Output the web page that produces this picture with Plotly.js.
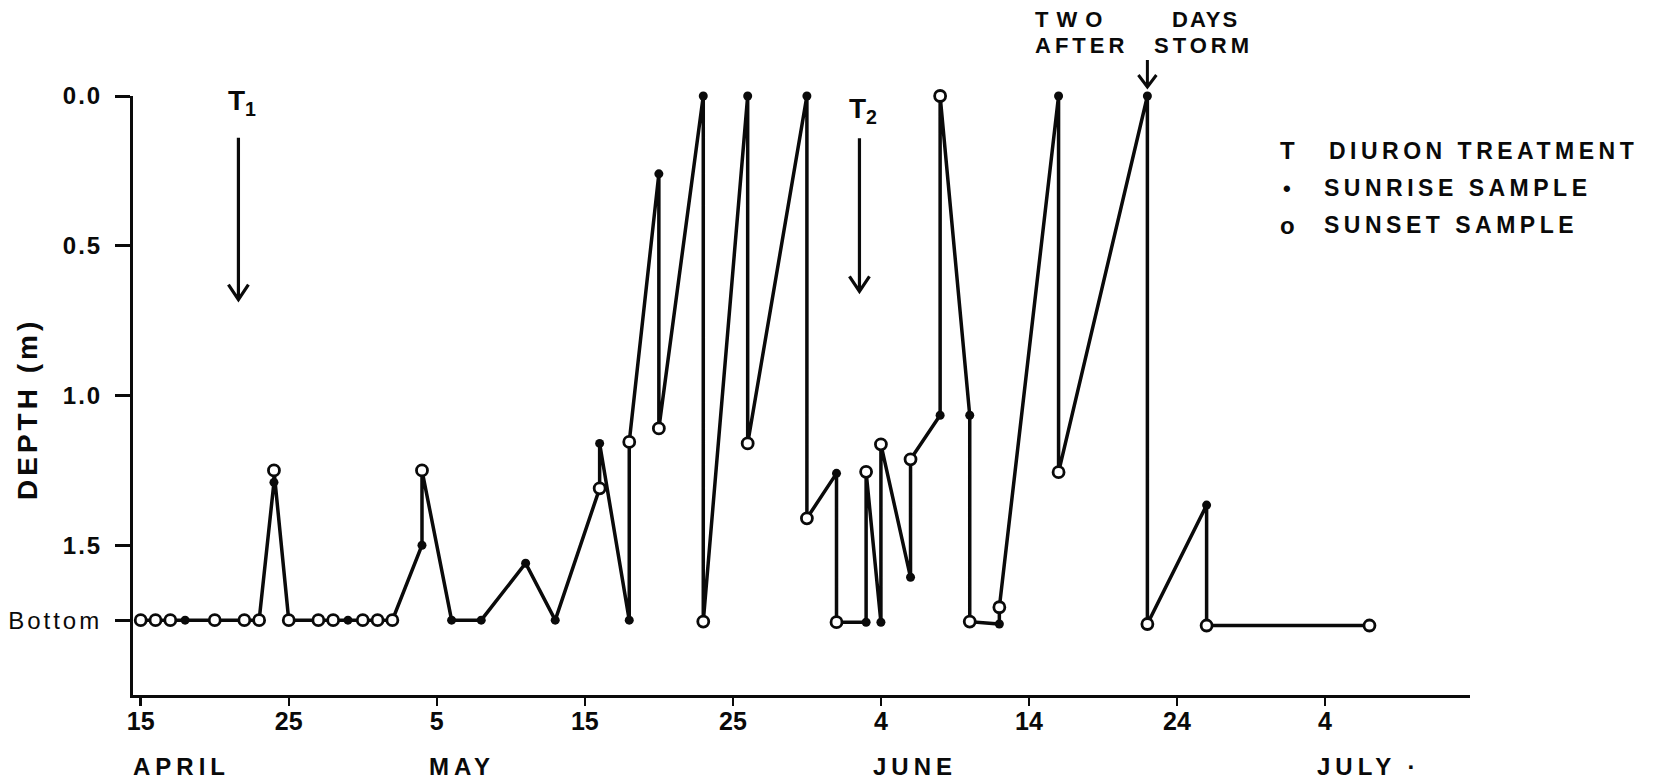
<!DOCTYPE html>
<html>
<head>
<meta charset="utf-8">
<script src="https://cdn.plot.ly/plotly-3.0.1.min.js"></script>
<style>
  html, body { margin: 0; padding: 0; background: #ffffff; }
  #chart { width: 1667px; height: 783px; }
</style>
</head>
<body>
<div id="chart"></div>
<script>
// ---------------- DATA ----------------
// Sampling dates (in the order the line connects them)
const sampleDates = [
  '1979-04-15','1979-04-15','1979-04-16','1979-04-16','1979-04-17','1979-04-18',
  '1979-04-20','1979-04-22','1979-04-23','1979-04-24','1979-04-24','1979-04-25',
  '1979-04-27','1979-04-28','1979-04-29','1979-04-30','1979-05-01','1979-05-02',
  '1979-05-04','1979-05-04','1979-05-06','1979-05-08','1979-05-11','1979-05-13',
  '1979-05-16','1979-05-16','1979-05-18','1979-05-18','1979-05-20','1979-05-20',
  '1979-05-23','1979-05-23','1979-05-26','1979-05-26','1979-05-30','1979-05-30',
  '1979-06-01','1979-06-01','1979-06-03','1979-06-03','1979-06-04','1979-06-04',
  '1979-06-06','1979-06-06','1979-06-08','1979-06-08','1979-06-10','1979-06-10',
  '1979-06-12','1979-06-12','1979-06-16','1979-06-16','1979-06-22','1979-06-22',
  '1979-06-26','1979-06-26','1979-07-07'
];
// Depth in metres (the "Bottom" level is about 1.75 m)
const sampleDepths = [
  1.75, 1.75, 1.75, 1.75, 1.75, 1.75,
  1.75, 1.75, 1.75, 1.29, 1.25, 1.75,
  1.75, 1.75, 1.75, 1.75, 1.75, 1.75,
  1.50, 1.25, 1.75, 1.75, 1.56, 1.75,
  1.31, 1.16, 1.75, 1.155, 0.26, 1.11,
  0.00, 1.755, 0.00, 1.16, 0.00, 1.41,
  1.26, 1.757, 1.757, 1.255, 1.757, 1.163,
  1.607, 1.213, 1.066, 0.00, 1.066, 1.755,
  1.763, 1.707, 0.00, 1.256, 0.00, 1.763,
  1.366, 1.768, 1.768
];
// Sample type for each point
const sampleTypes = [
  'sunrise','sunset','sunrise','sunset','sunset','sunrise',
  'sunset','sunset','sunset','sunrise','sunset','sunset',
  'sunset','sunset','sunrise','sunset','sunset','sunset',
  'sunrise','sunset','sunrise','sunrise','sunrise','sunrise',
  'sunset','sunrise','sunrise','sunset','sunrise','sunset',
  'sunrise','sunset','sunrise','sunset','sunrise','sunset',
  'sunrise','sunset','sunrise','sunset','sunrise','sunset',
  'sunrise','sunset','sunrise','sunset','sunrise','sunset',
  'sunrise','sunset','sunrise','sunset','sunrise','sunset',
  'sunrise','sunset','sunset'
];
// Diuron treatments and storm event
const treatmentDates  = ['1979-04-21 14:24', '1979-06-02 13:12'];
const treatmentLabels = ['T<sub>1</sub>', 'T<sub>2</sub>'];
const stormDate = '1979-06-22';
const stormWords = [['TWO', 'DAYS'], ['AFTER', 'STORM']];
// Axis ticks
const xTickDates  = ['1979-04-15','1979-04-25','1979-05-05','1979-05-15','1979-05-25',
                     '1979-06-04','1979-06-14','1979-06-24','1979-07-04'];
const xTickLabels = ['15','25','5','15','25','4','14','24','4'];
const monthDates  = ['1979-04-15','1979-05-05','1979-06-04','1979-07-04'];
const monthLabels = ['APRIL','MAY','JUNE','JULY ·'];
const depthTicks      = [0, 0.5, 1.0, 1.5, 1.75];
const depthTickLabels = ['0.0', '0.5', '1.0', '1.5', 'Bottom'];
const legendSymbols = ['T', '•', 'o'];
const legendTexts   = ['DIURON TREATMENT', 'SUNRISE SAMPLE', 'SUNSET SAMPLE'];
const yTitle = 'DEPTH (m)';

// ---------------- LAYOUT HELPERS ----------------
const W = 1667, H = 783;
const PL = 133, PR = 1470, PT = 96, PB = 695;
const px2x = px => (px - PL) / (PR - PL);
const px2y = py => (PB - py) / (PB - PT);
const FONT = 'Liberation Sans, Arial, Helvetica, sans-serif';
const ls = (t, s) => `<span style="letter-spacing:${s}px">${t}</span>`;
const INK = '#0a0a0a';

// ---------------- TRACES ----------------
const pick = (arr, type) => arr.filter((_, i) => sampleTypes[i] === type);

const traces = [
  {
    x: sampleDates, y: sampleDepths, type: 'scatter', mode: 'lines',
    line: { color: INK, width: 3.5 }, hoverinfo: 'skip', showlegend: false,
    cliponaxis: false
  },
  {
    x: pick(sampleDates, 'sunrise'), y: pick(sampleDepths, 'sunrise'),
    type: 'scatter', mode: 'markers', name: 'SUNRISE SAMPLE',
    marker: { symbol: 'circle', size: 9, color: INK, line: { width: 0 } },
    showlegend: false, cliponaxis: false
  },
  {
    x: pick(sampleDates, 'sunset'), y: pick(sampleDepths, 'sunset'),
    type: 'scatter', mode: 'markers', name: 'SUNSET SAMPLE',
    marker: { symbol: 'circle', size: 11, color: '#ffffff', line: { color: INK, width: 2.8 } },
    showlegend: false, cliponaxis: false
  }
];

// ---------------- ARROWS (shapes anchored on the event dates) ----------------
const arrowPath = (len, hw, hl) => `M0,${len} L0,0 M${-hw},${hl} L0,0 L${hw},${hl}`;
const shapes = [];
const treatTip = [0.68, 0.652];
const treatLen = [162, 153];
treatmentDates.forEach((d, i) => {
  shapes.push({
    type: 'path', xref: 'x', xsizemode: 'pixel', xanchor: d,
    yref: 'y', ysizemode: 'pixel', yanchor: treatTip[i],
    path: arrowPath(treatLen[i], 10, 15),
    line: { color: INK, width: 3.2 }, fillcolor: 'rgba(0,0,0,0)', layer: 'above'
  });
});
shapes.push({
  type: 'path', xref: 'x', xsizemode: 'pixel', xanchor: stormDate,
  yref: 'paper', ysizemode: 'pixel', yanchor: px2y(87),
  path: arrowPath(27, 9, 12),
  line: { color: INK, width: 3 }, fillcolor: 'rgba(0,0,0,0)', layer: 'above'
});

// ---------------- ANNOTATIONS ----------------
const annotations = [];

// treatment labels
treatmentDates.forEach((d, i) => {
  annotations.push({
    x: d, y: px2y([103, 110][i]), xref: 'x', yref: 'paper',
    text: treatmentLabels[i], showarrow: false, xanchor: 'center', yanchor: 'middle',
    xshift: 4,
    font: { family: FONT, size: 28, weight: 'bold', color: INK }
  });
});

// storm text
const stormPos = [[[1033, 19], [1170, 19]], [[1033, 46], [1152, 46]]];
const stormSpacing = [[8, 2], [4, 4]];
stormWords.forEach((row, r) => row.forEach((w, c) => {
  annotations.push({
    x: px2x(stormPos[r][c][0]), y: px2y(stormPos[r][c][1]), xref: 'paper', yref: 'paper',
    text: ls(w, stormSpacing[r][c]), showarrow: false, xanchor: 'left', yanchor: 'middle',
    font: { family: FONT, size: 22, weight: 'bold', color: INK }
  });
}));

// month labels
monthDates.forEach((d, i) => {
  annotations.push({
    x: d, y: px2y(766), xref: 'x', yref: 'paper', xshift: -10,
    text: ls(monthLabels[i], 5), showarrow: false, xanchor: 'left', yanchor: 'middle',
    font: { family: FONT, size: 24, weight: 'bold', color: INK }
  });
});

// legend (drawn as text, like the original key)
const legendRowY = [151, 188, 225];
const legendTextX = [1327, 1322, 1322];
legendSymbols.forEach((s, i) => {
  annotations.push({
    x: px2x(1287), y: px2y(legendRowY[i]), xref: 'paper', yref: 'paper',
    text: s, showarrow: false, xanchor: 'center', yanchor: 'middle',
    font: { family: FONT, size: i === 1 ? 22 : 24, weight: 'bold', color: INK }
  });
  annotations.push({
    x: px2x(legendTextX[i]), y: px2y(legendRowY[i]), xref: 'paper', yref: 'paper',
    text: ls(legendTexts[i], 4.5), showarrow: false, xanchor: 'left', yanchor: 'middle',
    font: { family: FONT, size: 23, weight: 'bold', color: INK }
  });
});

// y-axis title (placed by hand: it sits above the "Bottom" label in the original)
annotations.push({
  x: px2x(27), y: px2y(409), xref: 'paper', yref: 'paper',
  text: ls(yTitle, 4), textangle: -90, showarrow: false,
  xanchor: 'center', yanchor: 'middle',
  font: { family: FONT, size: 28, weight: 'bold', color: INK }
});

// ---------------- LAYOUT ----------------
const layout = {
  width: W, height: H,
  margin: { l: PL, r: W - PR, t: PT, b: H - PB, pad: 0 },
  paper_bgcolor: '#ffffff', plot_bgcolor: '#ffffff',
  showlegend: false,
  font: { family: FONT, color: INK },
  xaxis: {
    type: 'date',
    range: ['1979-04-14 11:30', '1979-07-13 19:00'],
    showgrid: false, zeroline: false,
    showline: true, linecolor: INK, linewidth: 3,
    ticks: 'outside', ticklen: 8, tickwidth: 2.5, tickcolor: INK,
    tickmode: 'array', tickvals: xTickDates, ticktext: xTickLabels,
    tickfont: { family: FONT, size: 25, weight: 'bold', color: INK },
    ticklabelstandoff: -6
  },
  yaxis: {
    range: [2, 0],
    showgrid: false, zeroline: false,
    showline: true, linecolor: INK, linewidth: 3,
    ticks: 'outside', ticklen: 15, tickwidth: 3, tickcolor: INK,
    tickmode: 'array', tickvals: depthTicks,
    ticktext: depthTickLabels.map(t => t === 'Bottom'
      ? ls(t, 3)
      : `<b>${ls(t, 2)}</b>`),
    tickfont: { family: FONT, size: 24, color: INK },
    ticklabelstandoff: 8
  },
  shapes: shapes,
  annotations: annotations
};

Plotly.newPlot('chart', traces, layout, { staticPlot: true, displayModeBar: false });
</script>
</body>
</html>
